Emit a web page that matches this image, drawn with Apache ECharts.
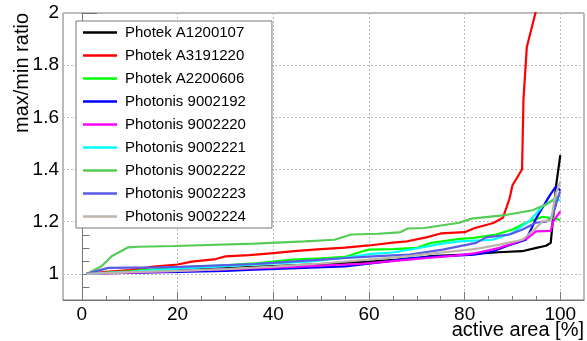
<!DOCTYPE html>
<html><head><meta charset="utf-8">
<script src="https://cdn.jsdelivr.net/npm/echarts@6/dist/echarts.min.js"></script>
<style>html,body{margin:0;padding:0;background:#fff}#c{width:587px;height:341px}</style>
</head><body><div id="c"></div>
<script>
// ---- data ----
const seriesNames = ['Photek A1200107','Photek A3191220','Photek A2200606','Photonis 9002192','Photonis 9002220','Photonis 9002221','Photonis 9002222','Photonis 9002223','Photonis 9002224'];
const seriesColors = ['#000000','#ff0000','#00ff00','#0000ff','#ff00ff','#00ffff','#55cc55','#5a5ae6','#bdb5ab'];

const xA1200107 = [1,10,20,30,40,50,60,70,73,80,87,92,95,97,98,99.1,100];
const yA1200107 = [1.0,1.008,1.015,1.022,1.03,1.038,1.047,1.06,1.068,1.074,1.083,1.087,1.1,1.108,1.119,1.336,1.455];

const xA3191220 = [1,5,10,15,20,23,28,30,35,40,45,50,55,60,65,68,72,75,80,82,86,88,89.4,90,92,92.3,93,94.8,96];
const yA3191220 = [1.0,1.008,1.015,1.028,1.036,1.047,1.057,1.067,1.072,1.08,1.088,1.095,1.101,1.109,1.12,1.125,1.14,1.155,1.16,1.175,1.195,1.215,1.29,1.34,1.40,1.67,1.87,2.0,2.1];

const xA2200606 = [1,10,20,30,36,44,50,55,58,60,65,70,73,79,82,86.6,90,92.8,96.3,99.1,100];
const yA2200606 = [1.0,1.01,1.025,1.033,1.04,1.055,1.06,1.065,1.083,1.093,1.095,1.1,1.119,1.134,1.138,1.151,1.17,1.196,1.219,1.211,1.206];

const x9002192 = [1,5,12,20,30,36,45,55,64,68.5,72,82,86,88.7,92.8,94.2,95,97.7,99.1,100];
const y9002192 = [1.0,1.003,1.005,1.008,1.012,1.016,1.022,1.029,1.048,1.061,1.064,1.074,1.087,1.106,1.131,1.183,1.215,1.298,1.336,1.32];

const x9002220 = [1,10,20,34,45,58,68.5,72,78,82.4,87.3,90.7,93.2,94.9,98,98.5,100];
const y9002220 = [1.0,1.005,1.012,1.02,1.028,1.038,1.055,1.061,1.07,1.08,1.1,1.121,1.138,1.163,1.165,1.2,1.24];

const x9002221 = [1,10,20,30,40,48,55,60.5,65,71.6,75,78.9,85.9,90,93.5,96.3,99.1,100];
const y9002221 = [1.0,1.008,1.02,1.03,1.04,1.048,1.062,1.077,1.082,1.103,1.115,1.125,1.131,1.157,1.202,1.259,1.291,1.28];

const x9002222 = [1,4.1,6.2,9.7,11.8,19.4,36.1,46.6,52.8,56.3,61.9,66.4,68.1,71.6,78.9,81.4,88,94.2,97,99.1,100];
const y9002222 = [1.0,1.029,1.068,1.102,1.104,1.107,1.116,1.125,1.131,1.151,1.154,1.159,1.174,1.176,1.196,1.212,1.224,1.244,1.266,1.29,1.30];

const x9002223 = [1,5.5,15.9,20.5,36.1,39.9,55.3,61.7,68.5,75.4,82.4,84.5,89.4,92.1,94.9,97,98.3,99.8,100];
const y9002223 = [1.0,1.023,1.025,1.027,1.038,1.042,1.061,1.068,1.074,1.093,1.119,1.14,1.151,1.17,1.196,1.2,1.215,1.31,1.317];

const x9002224 = [1,10,20,30,40,50,60,68.5,71.6,82.4,87.3,92.1,94.9,96.3,98,99.1,100];
const y9002224 = [1.0,1.007,1.012,1.018,1.028,1.04,1.055,1.068,1.075,1.096,1.112,1.131,1.176,1.202,1.205,1.31,1.355];

const xTickLabels = [0,20,40,60,80,100];
const xMinorTicks = [5,10,15,25,30,35,45,50,55,65,70,75,85,90,95];
const yTickLabels = [1,1.2,1.4,1.6,1.8,2];
const yMinorTicks = [0.95,1.05,1.1,1.15,1.25,1.3,1.35,1.45,1.5,1.55,1.65,1.7,1.75,1.85,1.9,1.95];
const xTitle = 'active area [%]';
const yTitle = 'max/min ratio';

// ---- chart ----
const xs = [xA1200107,xA3191220,xA2200606,x9002192,x9002220,x9002221,x9002222,x9002223,x9002224];
const ys = [yA1200107,yA3191220,yA2200606,y9002192,y9002220,y9002221,y9002222,y9002223,y9002224];
const FONT = 'Liberation Sans, Arial, Helvetica, sans-serif';
const AX = '#777';
const XMIN = -3.95, XMAX = 104.95, YMIN = 0.9, YMAX = 2.0;

const chart = echarts.init(document.getElementById('c'), null, {renderer: 'canvas'});
const series = seriesNames.map((n, i) => ({
  name: n, type: 'line', xAxisIndex: 0, yAxisIndex: 0,
  data: xs[i].map((x, j) => [x, ys[i][j]]),
  showSymbol: false, symbol: 'none', clip: true,
  color: seriesColors[i],
  lineStyle: {width: 2.2, color: seriesColors[i]},
  animation: false
}));

chart.setOption({
  animation: false,
  backgroundColor: '#fff',
  grid: {left: 63, right: 3, top: 13, bottom: 41, show: true, borderColor: AX, borderWidth: 1, backgroundColor: 'transparent'},
  xAxis: [{
    type: 'value', min: XMIN, max: XMAX, position: 'bottom',
    axisLine: {show: true, lineStyle: {color: AX, width: 1}},
    axisTick: {show: true, inside: true, length: 8, customValues: xTickLabels, lineStyle: {color: AX}},
    axisLabel: {show: true, customValues: xTickLabels, fontSize: 19, fontFamily: FONT, color: '#000', margin: 5},
    splitLine: {show: true, lineStyle: {type: [2, 2], color: '#bbb', width: 1}}
  }, {
    type: 'value', min: XMIN, max: XMAX, position: 'bottom',
    axisLine: {show: false},
    axisTick: {show: true, inside: true, length: 4, customValues: xMinorTicks, lineStyle: {color: AX}},
    axisLabel: {show: false},
    splitLine: {show: false}
  }],
  yAxis: [{
    type: 'value', min: YMIN, max: YMAX, position: 'left',
    axisLine: {show: true, lineStyle: {color: AX, width: 1}},
    axisTick: {show: true, inside: true, length: 15, customValues: yTickLabels, lineStyle: {color: AX}},
    axisLabel: {show: true, customValues: yTickLabels, fontSize: 19, fontFamily: FONT, color: '#000', margin: 4},
    splitLine: {show: true, lineStyle: {type: [2, 2], color: '#bbb', width: 1}}
  }, {
    type: 'value', min: YMIN, max: YMAX, position: 'left',
    axisLine: {show: false},
    axisTick: {show: true, inside: true, length: 7.5, customValues: yMinorTicks, lineStyle: {color: AX}},
    axisLabel: {show: false},
    splitLine: {show: false}
  }],
  legend: {
    data: seriesNames,
    orient: 'vertical', left: 76, top: 21,
    padding: [3, 26, 3, 7], itemGap: 6,
    itemWidth: 34, itemHeight: 2.5, icon: 'rect',
    borderColor: AX, borderWidth: 1, backgroundColor: '#fff',
    textStyle: {fontSize: 15, fontFamily: FONT, color: '#000', lineHeight: 17, padding: [0, 0, 0, 3]}
  },
  graphic: [
    {type: 'text', right: 3, top: 320, style: {text: xTitle, fontSize: 20, fontFamily: FONT, fill: '#000'}},
    {type: 'text', x: 12, y: 13, rotation: Math.PI / 2, style: {text: yTitle, fontSize: 20, fontFamily: FONT, fill: '#000', align: 'right', verticalAlign: 'top'}}
  ],
  series: series
});
</script>
</body></html>
